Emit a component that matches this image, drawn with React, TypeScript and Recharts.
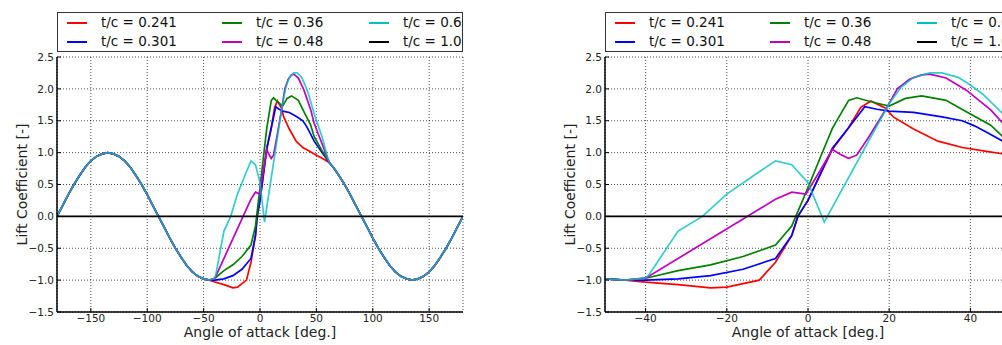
import React from "react";
import { LineChart, Line, XAxis, YAxis, CartesianGrid } from "recharts";

// flat-plate part shared by every thickness (negative side)
const negAlpha = [-180, -175, -170, -165, -160, -155, -150, -145, -140, -135, -130, -125, -120, -115, -110, -105, -100, -95, -90, -85, -80, -75, -70, -65, -60, -55, -50, -45];
const negCl = [0, 0.17, 0.34, 0.5, 0.64, 0.77, 0.87, 0.94, 0.98, 1.0, 0.98, 0.94, 0.87, 0.77, 0.64, 0.5, 0.34, 0.17, 0, -0.17, -0.34, -0.5, -0.64, -0.77, -0.87, -0.94, -0.98, -1.0];

// flat-plate part shared by every thickness (positive side)
const posAlpha = [62, 65, 70, 75, 80, 85, 90, 95, 100, 105, 110, 115, 120, 125, 130, 135, 140, 145, 150, 155, 160, 165, 170, 175, 180];
const posCl = [0.83, 0.77, 0.64, 0.5, 0.34, 0.17, 0, -0.17, -0.34, -0.5, -0.64, -0.77, -0.87, -0.94, -0.98, -1.0, -0.98, -0.94, -0.87, -0.77, -0.64, -0.5, -0.34, -0.17, 0];

// airfoil-specific middle part
const redAlpha = [-40, -32, -24, -20, -12, -8, -4, -2.5, 0, 6, 10, 13, 15.5, 19, 21, 26, 32, 38, 44, 48, 55, 60];
const redCl = [-1.03, -1.07, -1.12, -1.11, -1.0, -0.72, -0.3, 0.0, 0.25, 1.05, 1.39, 1.71, 1.81, 1.7, 1.56, 1.37, 1.18, 1.08, 1.02, 0.98, 0.91, 0.86];

const blueAlpha = [-40, -32, -24, -16, -8, -4, -2.5, 0, 6, 10, 14, 17, 20, 26, 33, 38, 41, 44, 48, 55, 60];
const blueCl = [-1.0, -0.98, -0.93, -0.83, -0.66, -0.3, 0.0, 0.25, 1.07, 1.39, 1.72, 1.68, 1.65, 1.63, 1.56, 1.5, 1.42, 1.32, 1.18, 1.0, 0.88];

const greenAlpha = [-40, -32, -24, -16, -8, -4, -3, 0, 3, 6, 10, 12, 16, 20, 24, 28, 34, 39, 45, 48, 55, 60];
const greenCl = [-0.97, -0.85, -0.76, -0.63, -0.45, -0.15, 0.0, 0.45, 0.92, 1.38, 1.82, 1.86, 1.79, 1.73, 1.85, 1.89, 1.82, 1.64, 1.43, 1.25, 1.03, 0.89];

const magentaAlpha = [-40, -24, -8, -4, -0.5, 3, 6, 8, 10, 12, 15, 19, 22, 25, 28, 30, 34, 39, 45, 48, 55, 60];
const magentaCl = [-0.97, -0.35, 0.27, 0.38, 0.35, 0.72, 1.05, 0.97, 0.91, 0.96, 1.25, 1.66, 2.0, 2.15, 2.22, 2.23, 2.17, 1.98, 1.67, 1.46, 1.14, 0.91];

const cyanAlpha = [-40, -39, -32, -26, -20, -12, -8, -4, 0, 4, 20, 23, 26, 30, 33, 37, 40, 43, 48, 55, 60];
const cyanCl = [-0.97, -0.9, -0.23, 0.0, 0.35, 0.7, 0.87, 0.81, 0.53, -0.09, 1.77, 2.03, 2.18, 2.25, 2.25, 2.18, 2.06, 1.92, 1.61, 1.25, 0.92];

// t/c = 1.0 (cylinder): no lift
const blackAlpha = [-180, 180];
const blackCl = [0, 0];

const yTicks = [-1.5, -1.0, -0.5, 0.0, 0.5, 1.0, 1.5, 2.0, 2.5];
const leftXTicks = [-150, -100, -50, 0, 50, 100, 150];
const rightXTicks = [-40, -20, 0, 20, 40];

const toRows = (alpha: number[], cl: number[]) => alpha.map((a, i) => ({ a, cl: cl[i] }));
const withOuter = (alpha: number[], cl: number[]) => [
  ...toRows(negAlpha, negCl),
  ...toRows(alpha, cl),
  ...toRows(posAlpha, posCl),
];

const SERIES = [
  { name: "t/c = 0.241", color: "#ff0000", data: withOuter(redAlpha, redCl), opacity: 1 },
  { name: "t/c = 0.301", color: "#0000ff", data: withOuter(blueAlpha, blueCl), opacity: 1 },
  { name: "t/c = 0.36", color: "#008000", data: withOuter(greenAlpha, greenCl), opacity: 1 },
  { name: "t/c = 0.48", color: "#bf00bf", data: withOuter(magentaAlpha, magentaCl), opacity: 1 },
  { name: "t/c = 0.6", color: "#00bfbf", data: withOuter(cyanAlpha, cyanCl), opacity: 0.8 },
  { name: "t/c = 1.0", color: "#000000", data: toRows(blackAlpha, blackCl), opacity: 1 },
];

const FONT = "'DejaVu Sans', sans-serif";
const PLOT_TOP = 57;
const PLOT_W = 406;
const Y_AXIS_W = 57;
const RIGHT_PAD = 17;
const CHART_W = Y_AXIS_W + PLOT_W + RIGHT_PAD;
const CHART_H = 345;

const fmtX = (v: number) => (v < 0 ? "\u2212" : "") + Math.abs(v);
const fmtY = (v: number) => (v < 0 ? "\u2212" : "") + Math.abs(v).toFixed(1);

const axisLine = { stroke: "#000", strokeWidth: 1.5 };
const tickLine = { stroke: "#000", strokeWidth: 1 };
const tickFont = { fontSize: 10.5, fill: "#222", fontFamily: FONT };

function LegendBox({ left }: { left: number }) {
  const cols = [9, 164, 311];
  const rows = [10, 29];
  return (
    <div
      style={{
        position: "absolute",
        left,
        top: 12,
        width: PLOT_W,
        height: 40,
        boxSizing: "border-box",
        border: "1.5px solid #333",
        background: "#fff",
        fontFamily: FONT,
        fontSize: 13.5,
        color: "#111",
      }}
    >
      {SERIES.map((s, i) => {
        const x = cols[Math.floor(i / 2)];
        const y = rows[i % 2];
        return (
          <React.Fragment key={s.name}>
            <div style={{ position: "absolute", left: x, top: y - 1, width: 20, height: 2, background: s.color }} />
            <div style={{ position: "absolute", left: x + 34, top: y - 9, lineHeight: "17px", whiteSpace: "nowrap" }}>
              {s.name}
            </div>
          </React.Fragment>
        );
      })}
    </div>
  );
}

function Panel({ left, domain, xTicks }: { left: number; domain: [number, number]; xTicks: number[] }) {
  return (
    <div style={{ position: "absolute", left, top: 0 }}>
      <LineChart width={CHART_W} height={CHART_H} margin={{ top: PLOT_TOP, right: RIGHT_PAD, bottom: 0, left: 0 }}>
        <CartesianGrid stroke="#000" strokeOpacity={0.7} strokeDasharray="1 2" />
        <XAxis
          type="number"
          dataKey="a"
          domain={domain}
          ticks={xTicks}
          allowDataOverflow
          height={CHART_H - PLOT_TOP - 255}
          tickSize={-4}
          tickMargin={7}
          tickFormatter={fmtX}
          tick={tickFont}
          axisLine={axisLine}
          tickLine={tickLine}
          label={{
            value: "Angle of attack [deg.]",
            position: "insideBottom",
            offset: 8,
            style: { fontSize: 14, fill: "#222", fontFamily: FONT },
          }}
        />
        <XAxis
          xAxisId="top"
          orientation="top"
          type="number"
          dataKey="a"
          domain={domain}
          ticks={xTicks}
          allowDataOverflow
          height={0}
          tickSize={-4}
          tick={false}
          axisLine={axisLine}
          tickLine={tickLine}
        />
        <YAxis
          type="number"
          domain={[-1.5, 2.5]}
          ticks={yTicks}
          allowDataOverflow
          width={Y_AXIS_W}
          tickSize={-4}
          tickMargin={7}
          tickFormatter={fmtY}
          tick={tickFont}
          axisLine={axisLine}
          tickLine={tickLine}
          label={{
            content: (p: any) => {
              const vb = p.viewBox || { x: 0, y: PLOT_TOP, width: Y_AXIS_W, height: 255 };
              const x = vb.x + vb.width - 30;
              const y = vb.y + vb.height / 2;
              return (
                <text
                  x={x}
                  y={y}
                  transform={`rotate(-90, ${x}, ${y})`}
                  textAnchor="middle"
                  style={{ fontSize: 14, fill: "#222", fontFamily: FONT }}
                >
                  Lift Coefficient [-]
                </text>
              );
            },
          }}
        />
        <YAxis
          yAxisId="right"
          orientation="right"
          type="number"
          domain={[-1.5, 2.5]}
          ticks={yTicks}
          allowDataOverflow
          width={0}
          tickSize={-4}
          tick={false}
          axisLine={axisLine}
          tickLine={tickLine}
        />
        {SERIES.map((s) => (
          <Line
            key={s.name}
            data={s.data}
            dataKey="cl"
            type="linear"
            stroke={s.color}
            strokeOpacity={s.opacity}
            strokeWidth={1.7}
            dot={false}
            activeDot={false}
            isAnimationActive={false}
          />
        ))}
      </LineChart>
    </div>
  );
}

export default function App() {
  return (
    <div
      style={{
        position: "fixed",
        left: 0,
        top: 0,
        width: 1002,
        height: 345,
        overflow: "hidden",
        background: "#fff",
      }}
    >
      <Panel left={0} domain={[-180, 180]} xTicks={leftXTicks} />
      <Panel left={548} domain={[-50, 50]} xTicks={rightXTicks} />
      <LegendBox left={57} />
      <LegendBox left={605} />
    </div>
  );
}
